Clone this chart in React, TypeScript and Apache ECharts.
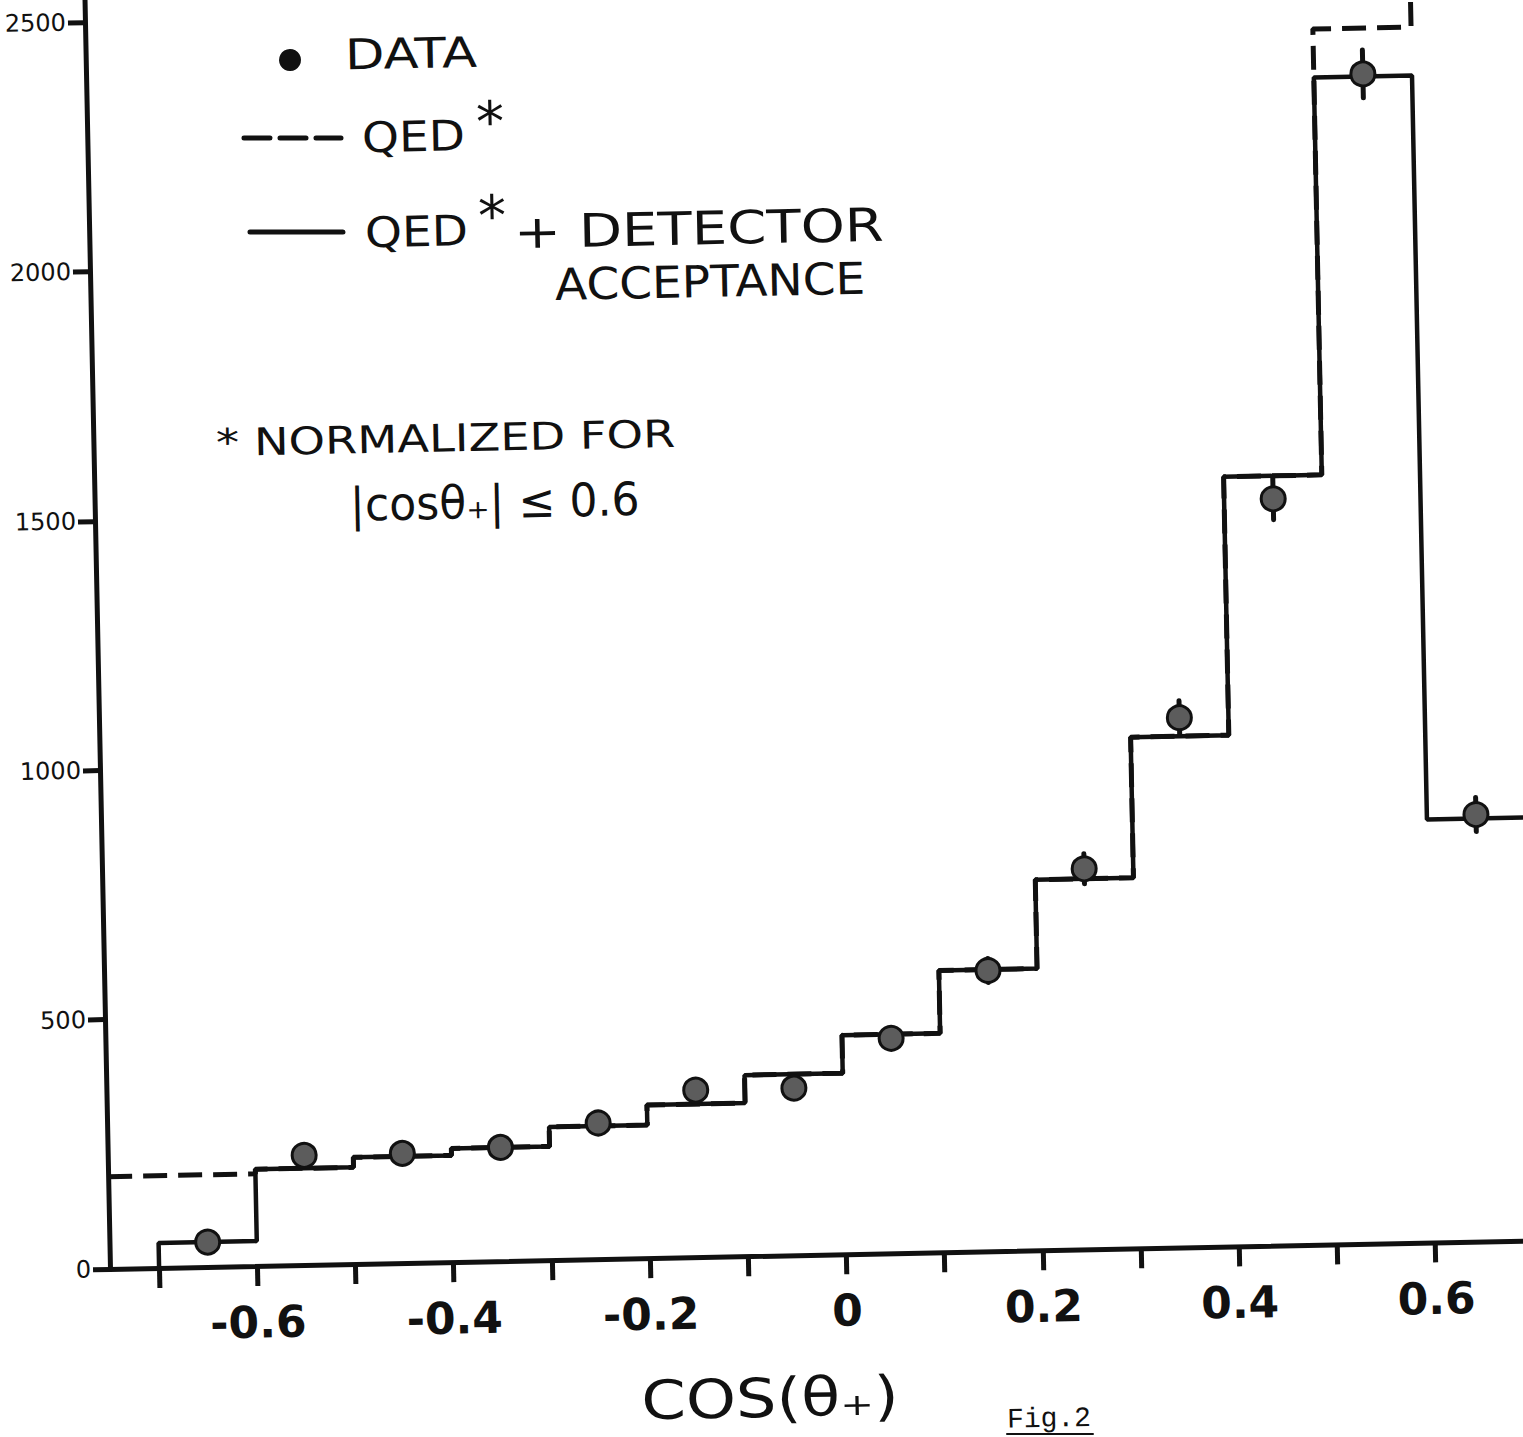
import React, { useEffect, useRef } from "react";
import * as echarts from "echarts";

// ---------------- data ----------------
const binEdges = [-0.7, -0.6, -0.5, -0.4, -0.3, -0.2, -0.1, 0, 0.1, 0.2, 0.3, 0.4, 0.5, 0.6, 0.7];
// QED* + detector acceptance (solid histogram), one value per bin
const qedDetector = [50, 194, 214, 228, 267, 307, 363, 439, 565, 743, 1025, 1543, 2340, 848];
// QED* (dashed histogram); first bin starts at the left edge of the frame, last bin runs off the top
const qedEdges = [-0.75, -0.6, -0.5, -0.4, -0.3, -0.2, -0.1, 0, 0.1, 0.2, 0.3, 0.4, 0.5, 0.6, 0.7];
const qedOnly = [185, 194, 214, 228, 267, 307, 363, 439, 565, 743, 1025, 1543, 2437, 3000];
// DATA points with error bars
const dataX = [-0.65, -0.55, -0.45, -0.35, -0.25, -0.15, -0.05, 0.05, 0.15, 0.25, 0.35, 0.45, 0.55, 0.65];
const dataY = [50, 220, 220, 228, 273, 335, 335, 431, 563, 763, 1062, 1497, 2345, 856];
const dataErr = [8, 14, 15, 15, 16, 18, 18, 21, 24, 30, 34, 42, 48, 34];
// axes
const xTickValues = [-0.7, -0.6, -0.5, -0.4, -0.3, -0.2, -0.1, 0, 0.1, 0.2, 0.3, 0.4, 0.5, 0.6, 0.7];
const xLabelValues = [-0.6, -0.4, -0.2, 0, 0.2, 0.4, 0.6];
const yTickValues = [0, 500, 1000, 1500, 2000, 2500];

// ---------------- layout (scan is slightly rotated) ----------------
const ANGLE_DEG = 1.15;
const A = (ANGLE_DEG * Math.PI) / 180;
const C = Math.cos(A);
const S = Math.sin(A);
const OX = 110; // axis origin on the page
const OY = 1269;
const DIV_LEFT = -20;
const DIV_TOP = -100;
const DIV_W = 1640;
const DIV_H = 1700;
const X_MIN = -0.75;
const X_MAX = 0.7;
const PX_PER_X = 982;
const Y_MAX = 2600;
const PX_PER_Y = 0.4988;

const GRID_LEFT = OX - DIV_LEFT;
const GRID_BOTTOM = DIV_H - (OY - DIV_TOP);
const GRID_RIGHT = DIV_W - (GRID_LEFT + (X_MAX - X_MIN) * PX_PER_X);
const GRID_TOP = OY - DIV_TOP - Y_MAX * PX_PER_Y;

// page coordinates (as seen in the reference) -> unrotated chart coordinates
function toDiv(x: number, y: number): [number, number] {
  const dx = x - OX;
  const dy = y - OY;
  return [OX - DIV_LEFT + dx * C - dy * S, OY - DIV_TOP + dx * S + dy * C];
}

function stepPoints(edges: number[], vals: number[], fromZero: boolean) {
  const pts: number[][] = [];
  if (fromZero) pts.push([edges[0], 0]);
  vals.forEach((v, i) => {
    pts.push([edges[i], v]);
    pts.push([edges[i + 1], v]);
  });
  return pts;
}

const INK = "#111";
const HAND = "DejaVu Sans";

function txt(text: string, x: number, y: number, fontSize: number, scaleX = 1, extra: any = {}) {
  const [px, py] = toDiv(x, y);
  return {
    type: "text",
    x: px,
    y: py,
    scaleX,
    z: 10,
    style: {
      text,
      fontSize,
      fontFamily: HAND,
      fill: INK,
      align: "left",
      verticalAlign: "middle",
      ...extra,
    },
  };
}

function seg(x1: number, y1: number, x2: number, y2: number, width: number, dash?: number[]) {
  const [a1, b1] = toDiv(x1, y1);
  const [a2, b2] = toDiv(x2, y2);
  return {
    type: "line",
    z: 10,
    shape: { x1: a1, y1: b1, x2: a2, y2: b2 },
    style: { stroke: INK, lineWidth: width, lineDash: dash, lineCap: "round" },
  };
}

function buildOption(): any {
  const [dcx, dcy] = toDiv(290, 60);
  return {
    animation: false,
    backgroundColor: "#ffffff",
    grid: { left: GRID_LEFT, right: GRID_RIGHT, top: GRID_TOP, bottom: GRID_BOTTOM },
    xAxis: {
      type: "value",
      min: X_MIN,
      max: X_MAX,
      axisLine: { show: true, onZero: false, lineStyle: { color: INK, width: 5 } },
      axisTick: {
        show: true,
        customValues: xTickValues,
        length: 20,
        lineStyle: { color: INK, width: 5 },
      },
      axisLabel: {
        customValues: xLabelValues,
        formatter: (v: number) => (Math.abs(v) < 1e-9 ? "0" : v.toFixed(1)),
        fontSize: 44,
        fontWeight: "bold",
        fontFamily: HAND,
        color: INK,
        margin: 34,
      },
      splitLine: { show: false },
    },
    yAxis: {
      type: "value",
      min: 0,
      max: Y_MAX,
      axisLine: { show: true, onZero: false, lineStyle: { color: INK, width: 5 } },
      axisTick: {
        show: true,
        customValues: yTickValues,
        length: 17,
        lineStyle: { color: INK, width: 5 },
      },
      axisLabel: {
        customValues: yTickValues,
        formatter: (v: number) => String(v),
        fontSize: 24,
        fontFamily: HAND,
        color: INK,
        margin: 19,
      },
      splitLine: { show: false },
    },
    series: [
      {
        name: "QED*",
        type: "line",
        data: stepPoints(qedEdges, qedOnly, false),
        showSymbol: false,
        clip: true,
        z: 2,
        lineStyle: { color: INK, width: 5, type: [24, 11] },
      },
      {
        name: "QED* + DETECTOR ACCEPTANCE",
        type: "line",
        data: stepPoints(binEdges, qedDetector, true),
        showSymbol: false,
        clip: true,
        z: 3,
        lineStyle: { color: INK, width: 4.5 },
      },
      {
        name: "errors",
        type: "custom",
        z: 4,
        data: dataX.map((x, i) => [x, dataY[i] - dataErr[i], dataY[i] + dataErr[i]]),
        encode: { x: 0, y: [1, 2] },
        renderItem: (_p: any, api: any) => {
          const lo = api.coord([api.value(0), api.value(1)]);
          const hi = api.coord([api.value(0), api.value(2)]);
          return {
            type: "line",
            shape: { x1: lo[0], y1: lo[1], x2: hi[0], y2: hi[1] },
            style: { stroke: INK, lineWidth: 5, lineCap: "round" },
          };
        },
      },
      {
        name: "DATA",
        type: "scatter",
        z: 5,
        data: dataX.map((x, i) => [x, dataY[i]]),
        symbol: "circle",
        symbolSize: 24,
        itemStyle: { color: "#5c5c5c", borderColor: INK, borderWidth: 3, opacity: 1 },
      },
    ],
    graphic: [
      { type: "circle", z: 10, shape: { cx: dcx, cy: dcy, r: 11 }, style: { fill: INK } },
      txt("DATA", 345, 55, 42, 1.22),
      seg(244, 138, 341, 138, 5, [26, 10]),
      txt("QED", 362, 138, 42, 1.12),
      txt("*", 476, 122, 56),
      seg(250, 232, 343, 232, 5),
      txt("QED", 365, 233, 42, 1.12),
      txt("*", 478, 216, 56),
      txt("+ DETECTOR", 514, 232, 46, 1.22),
      txt("ACCEPTANCE", 555, 285, 44, 1.07),
      txt("* NORMALIZED FOR", 216, 443, 38, 1.22),
      txt("|cosθ₊| ≤ 0.6", 350, 505, 46, 0.96),
      txt("COS(θ₊)", 770, 1398, 54, 1.18, { align: "center" }),
      txt("Fig.2", 1007, 1420, 28, 1, { fontFamily: "Liberation Mono" }),
      seg(1007, 1434, 1093, 1434, 2),
    ],
  };
}

export default function App() {
  const ref = useRef<HTMLDivElement>(null);
  useEffect(() => {
    if (!ref.current) return;
    const chart = echarts.init(ref.current, undefined, { renderer: "svg" });
    chart.setOption(buildOption());
    return () => chart.dispose();
  }, []);
  return (
    <div
      style={{
        position: "fixed",
        left: 0,
        top: 0,
        width: 1523,
        height: 1437,
        overflow: "hidden",
        background: "#ffffff",
      }}
    >
      <div
        ref={ref}
        style={{
          position: "absolute",
          left: DIV_LEFT,
          top: DIV_TOP,
          width: DIV_W,
          height: DIV_H,
          transform: `rotate(${-ANGLE_DEG}deg)`,
          transformOrigin: `${OX - DIV_LEFT}px ${OY - DIV_TOP}px`,
        }}
      />
    </div>
  );
}
